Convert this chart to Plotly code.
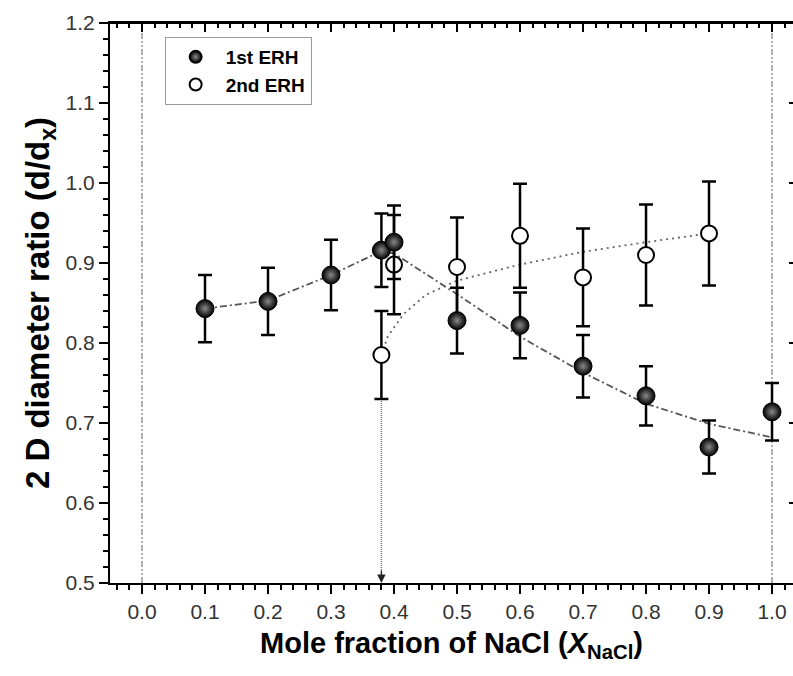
import plotly.graph_objects as go

# ---- data ----
x1 = [0.1, 0.2, 0.3, 0.38, 0.4, 0.5, 0.6, 0.7, 0.8, 0.9, 1.0]
y1 = [0.843, 0.852, 0.885, 0.916, 0.926, 0.828, 0.822, 0.771, 0.734, 0.670, 0.714]
e1 = [0.042, 0.042, 0.044, 0.046, 0.046, 0.041, 0.041, 0.039, 0.037, 0.033, 0.036]

x2 = [0.38, 0.4, 0.5, 0.6, 0.7, 0.8, 0.9]
y2 = [0.785, 0.898, 0.895, 0.934, 0.882, 0.910, 0.937]
e2 = [0.055, 0.062, 0.062, 0.065, 0.061, 0.063, 0.065]

fit1_x = [0.1, 0.2, 0.3, 0.38, 0.4, 0.5, 0.6, 0.7, 0.8, 0.9, 1.0]
fit1_y = [0.843, 0.853, 0.885, 0.915, 0.912, 0.861, 0.808, 0.763, 0.724, 0.699, 0.682]

fit2_x = [0.38, 0.39, 0.415, 0.45, 0.5, 0.6, 0.7, 0.8, 0.9]
fit2_y = [0.785, 0.808, 0.836, 0.860, 0.878, 0.898, 0.914, 0.926, 0.937]

arrow_x = [0.38, 0.38]
arrow_y = [0.730, 0.505]

guide_x = [0.0, 1.0]

xtick_vals = [0.0, 0.1, 0.2, 0.3, 0.4, 0.5, 0.6, 0.7, 0.8, 0.9, 1.0]
ytick_vals = [0.5, 0.6, 0.7, 0.8, 0.9, 1.0, 1.1, 1.2]

XR = [-0.0508, 1.0333]
YR = [0.5, 1.2]

FONT = "Liberation Sans, Arial, sans-serif"

fig = go.Figure()

# fitted guide lines
fig.add_trace(go.Scatter(x=fit1_x, y=fit1_y, mode="lines", showlegend=False,
                         line=dict(color="#555555", width=1.8, dash="7px,3px,2px,3px"),
                         hoverinfo="skip"))
fig.add_trace(go.Scatter(x=fit2_x, y=fit2_y, mode="lines", showlegend=False,
                         line=dict(color="#666666", width=1.8, dash="2px,4px"),
                         hoverinfo="skip"))
# dotted arrow shaft
fig.add_trace(go.Scatter(x=arrow_x, y=arrow_y, mode="lines", showlegend=False,
                         line=dict(color="#777777", width=1.5, dash="1px,1px"),
                         hoverinfo="skip"))

# 2nd ERH (open circles)
fig.add_trace(go.Scatter(
    x=x2, y=y2, mode="markers", name="2nd ERH", legendrank=2,
    marker=dict(symbol="circle", size=16, color="white",
                line=dict(color="black", width=2)),
    error_y=dict(type="data", array=e2, visible=True, color="black",
                 thickness=2.5, width=7),
))
# 1st ERH (filled spheres)
fig.add_trace(go.Scatter(
    x=x1, y=y1, mode="markers", name="1st ERH", legendrank=1,
    marker=dict(symbol="circle", size=18, color="black",
                gradient=dict(type="radial", color="#8a8a8a"),
                line=dict(color="black", width=1)),
    error_y=dict(type="data", array=e1, visible=True, color="black",
                 thickness=2.5, width=7),
))

# vertical reference lines at x=0 and x=1
for gx in guide_x:
    fig.add_shape(type="line", xref="x", yref="y", x0=gx, x1=gx, y0=YR[0], y1=YR[1],
                  line=dict(color="#888888", width=1.3, dash="6px,2px,2px,2px,2px,2px"),
                  layer="below")

# top frame line of the plot area
fig.add_shape(type="line", xref="paper", yref="paper", x0=0, x1=1, y0=1, y1=1,
              line=dict(color="black", width=2), layer="above")

# arrowhead
fig.add_annotation(x=arrow_x[1], y=YR[0], xref="x", yref="y", text="",
                   showarrow=True, ax=0, ay=-14, arrowhead=2, arrowsize=1.3,
                   arrowwidth=1.3, arrowcolor="#222222")

tickfont = dict(family=FONT, size=21, color="#333333")

fig.update_layout(
    width=793, height=676,
    margin=dict(l=110, r=0, t=23, b=93),
    paper_bgcolor="white", plot_bgcolor="white",
    font=dict(family=FONT, color="black"),
    showlegend=True,
    legend=dict(x=0.08, y=0.975, xanchor="left", yanchor="top",
                bgcolor="white", bordercolor="#999999", borderwidth=1,
                font=dict(family=FONT, size=19, color="black", weight="bold"),
                itemsizing="constant", itemwidth=50, tracegroupgap=0),
    xaxis=dict(
        range=XR, tickmode="array", tickvals=xtick_vals, automargin=False,
        ticktext=[f"{v:.1f}" for v in xtick_vals],
        ticks="outside", ticklen=9, tickwidth=2, tickcolor="black",
        showline=True, linecolor="black", linewidth=2, mirror=True,
        showgrid=False, zeroline=False, tickfont=tickfont,
        minor=dict(dtick=0.02, tick0=0, ticks="outside", ticklen=5, tickwidth=1.5,
                   tickcolor="black", showgrid=False),
        title=dict(text="<b>Mole fraction of NaCl (<i>X</i><sub>NaCl</sub>)</b>",
                   font=dict(family=FONT, size=29, color="black"), standoff=10),
    ),
    xaxis2=dict(
        range=XR, overlaying="x", side="top", anchor="y", automargin=False,
        tickmode="array", tickvals=xtick_vals, showticklabels=False,
        ticks="inside", ticklen=9, tickwidth=2, tickcolor="black",
        showline=True, linecolor="black", linewidth=2,
        showgrid=False, zeroline=False,
        minor=dict(dtick=0.02, tick0=0, ticks="inside", ticklen=5, tickwidth=1.5,
                   tickcolor="black", showgrid=False),
    ),
    yaxis=dict(
        range=YR, tickmode="array", tickvals=ytick_vals, automargin=False,
        ticktext=[f"{v:.1f}" for v in ytick_vals],
        ticks="outside", ticklen=9, tickwidth=2, tickcolor="black",
        showline=True, linecolor="black", linewidth=2,
        showgrid=False, zeroline=False, tickfont=tickfont,
        minor=dict(dtick=0.02, tick0=0.5, ticks="outside", ticklen=5, tickwidth=1.5,
                   tickcolor="black", showgrid=False),
        title=dict(text="<b>2 D diameter ratio (d/d<sub>x</sub>)</b>",
                   font=dict(family=FONT, size=33, color="black"), standoff=6),
    ),
    yaxis2=dict(
        range=YR, overlaying="y", side="right", anchor="x", automargin=False,
        tickmode="array", tickvals=ytick_vals, showticklabels=False,
        ticks="inside", ticklen=4, tickwidth=2, tickcolor="black",
        showline=False, showgrid=False, zeroline=False,
    ),
)

# dummy trace so the overlay axes are drawn
fig.add_trace(go.Scatter(x=[None], y=[None], xaxis="x2", yaxis="y2",
                         showlegend=False, hoverinfo="skip"))

fig.write_html("out.html", config={"displayModeBar": False},
               post_script="document.body.style.margin='0px';document.body.style.overflow='hidden';")
